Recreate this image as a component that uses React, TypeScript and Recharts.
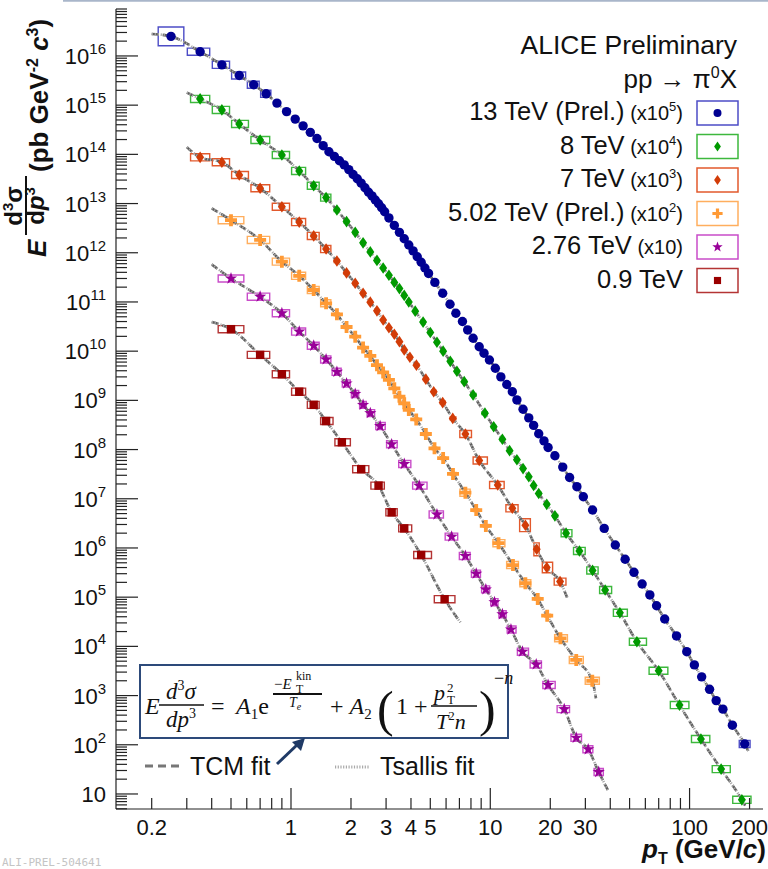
import React from 'react';
import { ComposedChart, Scatter, Line, XAxis, YAxis, ReferenceArea } from 'recharts';

// pT bin centres (GeV/c) and scaled invariant yields
const PT_13 = [0.25, 0.35, 0.45, 0.55, 0.65, 0.75, 0.85, 0.95, 1.05, 1.15, 1.25, 1.35, 1.45, 1.55, 1.65, 1.75, 1.85, 1.95, 2.05, 2.15, 2.25, 2.35, 2.45, 2.55, 2.65, 2.75, 2.85, 2.95, 3.1, 3.3, 3.5, 3.7, 3.9, 4.1, 4.3, 4.5, 4.7, 4.9, 5.27, 5.77, 6.28, 6.72, 7.25, 7.7, 8.2, 8.8, 9.3, 9.9, 10.6, 11.3, 12.1, 12.9, 13.6, 14.6, 15.6, 16.5, 17.5, 18.6, 19.5, 21.1, 23.1, 25, 27.2, 29.3, 32.6, 37.3, 42.4, 47.5, 52.6, 57.8, 63.2, 68.3, 75, 86, 96.8, 105.7, 115, 126, 136, 147, 164, 189];
const Y_13 = [2.5e16, 1.22e16, 6.6e15, 4.0e15, 2.6e15, 1.7e15, 1.1e15, 7.4e14, 5.2e14, 3.8e14, 2.8e14, 2.1e14, 1.5e14, 1.13e14, 9.1e13, 7.4e13, 6.1e13, 4.9e13, 3.9e13, 3.2e13, 2.6e13, 2.1e13, 1.7e13, 1.43e13, 1.18e13, 9.9e12, 8.2e12, 6.8e12, 5.1e12, 3.6e12, 2.6e12, 1.93e12, 1.44e12, 1.09e12, 8.3e11, 6.4e11, 4.9e11, 3.8e11, 2.5e11, 1.5e11, 9.0e10, 5.9e10, 4.0e10, 2.7e10, 1.83e10, 1.23e10, 9.1e9, 6.6e9, 4.5e9, 3.0e9, 2.1e9, 1.5e9, 1.02e9, 6.6e8, 4.4e8, 3.1e8, 2.1e8, 1.5e8, 1.1e8, 7.5e7, 4.4e7, 2.7e7, 1.76e7, 1.1e7, 5.9e6, 2.5e6, 1.15e6, 5.9e5, 3.2e5, 1.85e5, 1.11e5, 6.7e4, 3.6e4, 1.63e4, 7.8e3, 4.2e3, 2.4e3, 1.34e3, 790, 530, 250, 104];

const PT_8 = [0.35, 0.45, 0.55, 0.7, 0.9, 1.1, 1.3, 1.5, 1.7, 1.9, 2.1, 2.3, 2.5, 2.7, 2.9, 3.1, 3.3, 3.5, 3.7, 3.9, 4.2, 4.6, 5.0, 5.4, 5.8, 6.3, 6.8, 7.4, 8.2, 9.4, 10.4, 11.5, 12.5, 13.6, 14.6, 15.6, 16.5, 17.5, 19.2, 21.1, 24, 28, 32.6, 37.7, 44.7, 54.4, 70, 89, 114, 144, 183];
const Y_8 = [1.34e15, 8.0e14, 4.15e14, 1.96e14, 9.7e13, 4.6e13, 2.3e13, 1.32e13, 7.4e12, 4.3e12, 2.6e12, 1.59e12, 1.04e12, 7.0e11, 4.9e11, 3.5e11, 2.5e11, 1.87e11, 1.36e11, 1.0e11, 6.5e10, 3.9e10, 2.4e10, 1.52e10, 1.0e10, 6.2e9, 3.9e9, 2.4e9, 1.29e9, 5.5e8, 2.9e8, 1.62e8, 9.5e7, 6.2e7, 4.1e7, 2.8e7, 1.86e7, 1.28e7, 7.7e6, 4.5e6, 2.0e6, 8.7e5, 3.5e5, 1.4e5, 4.8e4, 1.24e4, 3.2e3, 640, 131, 32, 7.6];

const PT_7 = [0.35, 0.45, 0.55, 0.7, 0.9, 1.1, 1.3, 1.5, 1.7, 1.9, 2.1, 2.3, 2.5, 2.7, 2.9, 3.1, 3.3, 3.5, 3.7, 3.95, 4.26, 4.75, 5.2, 5.77, 6.48, 7.5, 8.8, 10.9, 12.9, 15, 17.1, 19.2, 22.4];
const Y_7 = [8.7e13, 6.9e13, 3.8e13, 2.05e13, 8.6e12, 4.2e12, 2.2e12, 1.19e12, 6.8e11, 3.9e11, 2.4e11, 1.5e11, 9.9e10, 6.6e10, 4.3e10, 3.0e10, 2.2e10, 1.56e10, 1.06e10, 7.5e9, 5.2e9, 2.7e9, 1.5e9, 9.0e8, 4.3e8, 2.07e8, 6.0e7, 1.9e7, 6.4e6, 2.9e6, 9.4e5, 4.0e5, 2.07e5];

const PT_5 = [0.5, 0.7, 0.9, 1.1, 1.3, 1.5, 1.7, 1.9, 2.1, 2.3, 2.5, 2.7, 2.9, 3.1, 3.3, 3.5, 3.7, 3.9, 4.25, 4.75, 5.25, 5.8, 6.5, 7.5, 8.5, 9.5, 11, 13, 15, 17.3, 19.3, 22.5, 27, 32.5];
const Y_5 = [4.6e12, 1.82e12, 6.6e11, 3.4e11, 1.75e11, 9.4e10, 5.6e10, 3.1e10, 1.97e10, 1.18e10, 8.0e9, 5.2e9, 3.7e9, 2.6e9, 1.76e9, 1.19e9, 8.7e8, 6.4e8, 4.1e8, 2.07e8, 1.06e8, 6.7e7, 3.2e7, 1.33e7, 5.9e6, 2.8e6, 1.25e6, 4.5e5, 1.92e5, 9.2e4, 4.2e4, 1.46e4, 5.3e3, 2.0e3];

const PT_276 = [0.5, 0.7, 0.9, 1.1, 1.3, 1.5, 1.7, 1.9, 2.1, 2.3, 2.5, 2.8, 3.2, 3.7, 4.4, 5.4, 6.4, 7.5, 8.5, 9.5, 10.5, 11.5, 12.7, 14.5, 17, 19.5, 23.5, 27, 31, 35];
const Y_276 = [3.0e11, 1.28e11, 5.9e10, 2.5e10, 1.29e10, 6.8e9, 3.8e9, 2.2e9, 1.35e9, 8.1e8, 5.5e8, 3.0e8, 1.28e8, 5.1e7, 1.85e7, 4.8e6, 1.7e6, 6.9e5, 3.0e5, 1.44e5, 7.9e4, 4.5e4, 2.2e4, 7.8e3, 4.3e3, 1.64e3, 530, 139, 81, 28];

const PT_09 = [0.5, 0.7, 0.9, 1.1, 1.3, 1.5, 1.8, 2.25, 2.75, 3.2, 3.7, 4.5, 5.9];
const Y_09 = [2.8e10, 8.4e9, 3.4e9, 1.5e9, 8.1e8, 3.8e8, 1.41e8, 4.0e7, 1.85e7, 5.3e6, 2.5e6, 7.2e5, 9.1e4];

// where the fit curves start and stop (same order as the series)
const FIT_FROM_PT = [0.2, 0.3, 0.3, 0.4, 0.4, 0.4];
const FIT_FROM_Y = [2.8e16, 1.8e15, 1.4e14, 8.0e12, 5.8e11, 3.9e10];
const FIT_TO_PT = [197, 190, 24.4, 33.9, 38.9, 7.07];
const FIT_TO_Y = [75, 5.8, 9.5e4, 880, 12, 3.1e4];

const NAMES = ['13 TeV (Prel.)', '8 TeV', '7 TeV', '5.02 TeV (Prel.)', '2.76 TeV', '0.9 TeV'];
const SCALE_EXP: (string | null)[] = ['5', '4', '3', '2', '', null];

const X_TICKS = [0.2, 0.3, 0.4, 0.5, 0.6, 0.7, 0.8, 0.9, 1, 2, 3, 4, 5, 6, 7, 8, 9, 10, 20, 30, 40, 50, 60, 70, 80, 90, 100, 200];
const X_LABELS = [0.2, 1, 2, 3, 4, 5, 10, 20, 30, 100, 200];
const X_MAJOR = [1, 10, 100];

const X_DOMAIN: [number, number] = [0.1324, 233.6];
const Y_DOMAIN: [number, number] = [4.95, 9.0e16];

const Y_TICKS: number[] = [];
for (let e = 0; e <= 16; e++) {
  for (let k = 1; k <= 9; k++) {
    const v = k * Math.pow(10, e);
    if (v >= Y_DOMAIN[0] && v <= Y_DOMAIN[1]) Y_TICKS.push(v);
  }
}

// thinBoxes: where points sit close together the boxes shrink behind the markers
const SERIES = [
  { pt: PT_13, y: Y_13, marker: 'circle', color: '#000092', box: '#4c4cc6', thinBoxes: true },
  { pt: PT_8, y: Y_8, marker: 'diamond', color: '#009a00', box: '#3db83d', thinBoxes: true },
  { pt: PT_7, y: Y_7, marker: 'diamond', color: '#d23c08', box: '#e2592c', thinBoxes: true },
  { pt: PT_5, y: Y_5, marker: 'cross', color: '#ff9a35', box: '#ffae5e', thinBoxes: true },
  { pt: PT_276, y: Y_276, marker: 'star', color: '#990099', box: '#c94cc9', thinBoxes: false },
  { pt: PT_09, y: Y_09, marker: 'square', color: '#9a0000', box: '#b43434', thinBoxes: false },
];

// larger systematic boxes (series index, point index, relative size)
const BIG_SYS = [
  [0, 0, 0.55],
  [2, 29, 0.35],
  [2, 30, 0.35],
  [2, 31, 0.28],
];

const FONT = '"Liberation Sans", Arial, Helvetica, sans-serif';
const SERIF = '"Liberation Serif", "DejaVu Serif", serif';

const isDecade = (v: number) => Math.abs(Math.log10(v) - Math.round(Math.log10(v))) < 1e-9;

function Marker({ kind, cx, cy, color, s = 1 }: any) {
  if (cx == null || cy == null) return null;
  if (kind === 'circle') return <circle cx={cx} cy={cy} r={4.7 * s} fill={color} />;
  if (kind === 'diamond')
    return <polygon points={`${cx},${cy - 5.8 * s} ${cx + 4 * s},${cy} ${cx},${cy + 5.8 * s} ${cx - 4 * s},${cy}`} fill={color} />;
  if (kind === 'square') return <rect x={cx - 4.2 * s} y={cy - 4.2 * s} width={8.4 * s} height={8.4 * s} fill={color} />;
  if (kind === 'cross') {
    const a = 6 * s;
    const b = 1.9 * s;
    return (
      <path
        d={`M${cx - a},${cy - b}H${cx + a}V${cy + b}H${cx - a}Z M${cx - b},${cy - a}H${cx + b}V${cy + a}H${cx - b}Z`}
        fill={color}
      />
    );
  }
  // five-pointed star
  const pts: string[] = [];
  for (let k = 0; k < 10; k++) {
    const r = (k % 2 ? 2.6 : 6.4) * s;
    const ang = ((-90 + k * 36) * Math.PI) / 180;
    pts.push(`${cx + r * Math.cos(ang)},${cy + r * Math.sin(ang)}`);
  }
  return <polygon points={pts.join(' ')} fill={color} />;
}

function XTick({ x, y, payload }: any) {
  const v = payload.value;
  const len = X_MAJOR.includes(v) ? 21 : 11;
  return (
    <g>
      <line x1={x} y1={y} x2={x} y2={y - len} stroke="#222" strokeWidth={1.2} />
      {X_LABELS.includes(v) && (
        <text x={x} y={y + 26} textAnchor="middle" fontSize={22} fontFamily={FONT} fill="#111">
          {v}
        </text>
      )}
    </g>
  );
}

function TopTick({ x, y, payload }: any) {
  const len = X_MAJOR.includes(payload.value) ? 21 : 11;
  return <line x1={x} y1={y} x2={x} y2={y + len} stroke="#222" strokeWidth={1.2} />;
}

function YTick({ x, y, payload }: any) {
  const v = payload.value;
  const major = isDecade(v);
  const e = Math.round(Math.log10(v));
  return (
    <g>
      <line x1={x} y1={y} x2={x + (major ? 22 : 11)} y2={y} stroke="#222" strokeWidth={1.2} />
      {major && e >= 1 && (
        <text x={x - 10} y={y + 8} textAnchor="end" fontSize={22} fontFamily={FONT} fill="#111">
          10
          {e > 1 && (
            <tspan dy={-10} fontSize={15}>
              {e}
            </tspan>
          )}
        </text>
      )}
    </g>
  );
}

function RightTick({ x, y, payload }: any) {
  const len = isDecade(payload.value) ? 22 : 11;
  return <line x1={x} y1={y} x2={x - len} y2={y} stroke="#222" strokeWidth={1.2} />;
}

function boxesFor(s: number) {
  const { pt, y, thinBoxes } = SERIES[s];
  return pt.map((p, i) => {
    const hi = i < pt.length - 1 ? Math.sqrt(p * pt[i + 1]) : (p * p) / Math.sqrt(p * pt[i - 1]);
    const lo = i > 0 ? Math.sqrt(p * pt[i - 1]) : (p * p) / Math.sqrt(p * pt[i + 1]);
    const dense = thinBoxes && Math.log10(hi / lo) < 0.058;
    const big = BIG_SYS.find((b) => b[0] === s && b[1] === i);
    const f = big ? big[2] : dense ? 0.07 : 0.18;
    const w = dense ? 0.5 : 0.88;
    return {
      x1: p * Math.pow(lo / p, w),
      x2: p * Math.pow(hi / p, w),
      y1: y[i] / (1 + f),
      y2: y[i] * (1 + f),
    };
  });
}

export default function App() {
  const points = SERIES.map((s) => s.pt.map((x, i) => ({ x, y: s.y[i] })));
  const fits = points.map((p, s) => [
    { x: FIT_FROM_PT[s], y: FIT_FROM_Y[s] },
    ...p,
    { x: FIT_TO_PT[s], y: FIT_TO_Y[s] },
  ]);

  return (
    <div style={{ position: 'absolute', left: 0, top: 0, width: 768, height: 869, background: '#fff', fontFamily: FONT }}>
      <ComposedChart width={768} height={869} margin={{ top: 9, right: 5, bottom: 0, left: 0 }}>
        <XAxis
          dataKey="x"
          type="number"
          scale="log"
          domain={X_DOMAIN}
          allowDataOverflow
          ticks={X_TICKS}
          interval={0}
          height={60}
          tickSize={0}
          tickMargin={0}
          tickLine={false}
          axisLine={{ stroke: '#222', strokeWidth: 1.2 }}
          tick={(p: any) => <XTick {...p} />}
        />
        <XAxis
          xAxisId="top"
          orientation="top"
          dataKey="x"
          type="number"
          scale="log"
          domain={X_DOMAIN}
          allowDataOverflow
          ticks={X_TICKS}
          interval={0}
          height={0}
          tickSize={0}
          tickMargin={0}
          tickLine={false}
          axisLine={{ stroke: '#222', strokeWidth: 1.2 }}
          tick={(p: any) => <TopTick {...p} />}
        />
        <YAxis
          dataKey="y"
          type="number"
          scale="log"
          domain={Y_DOMAIN}
          allowDataOverflow
          ticks={Y_TICKS}
          interval={0}
          width={116}
          tickSize={0}
          tickMargin={0}
          tickLine={false}
          axisLine={{ stroke: '#222', strokeWidth: 1.2 }}
          tick={(p: any) => <YTick {...p} />}
        />
        <YAxis
          yAxisId="right"
          orientation="right"
          dataKey="y"
          type="number"
          scale="log"
          domain={Y_DOMAIN}
          allowDataOverflow
          ticks={Y_TICKS}
          interval={0}
          width={0}
          tickSize={0}
          tickMargin={0}
          tickLine={false}
          axisLine={{ stroke: '#222', strokeWidth: 1.2 }}
          tick={(p: any) => <RightTick {...p} />}
        />

        {SERIES.map((s, si) =>
          boxesFor(si).map((b, i) => (
            <ReferenceArea
              key={`b${si}-${i}`}
              x1={b.x1}
              x2={b.x2}
              y1={b.y1}
              y2={b.y2}
              fill="none"
              fillOpacity={0}
              stroke={s.box}
              strokeWidth={1.4}
              strokeOpacity={1}
            />
          ))
        )}

        {fits.map((d, si) => (
          <Line
            key={`tcm${si}`}
            data={d}
            dataKey="y"
            type="monotone"
            stroke="#5f5f5f"
            strokeWidth={2.6}
            strokeDasharray="7 4"
            dot={false}
            isAnimationActive={false}
          />
        ))}
        {fits.map((d, si) => (
          <Line
            key={`ts${si}`}
            data={d}
            dataKey="y"
            type="monotone"
            stroke="#a9a9a9"
            strokeWidth={2.6}
            strokeDasharray="1.2 1.8"
            dot={false}
            isAnimationActive={false}
          />
        ))}

        {SERIES.map((s, si) => (
          <Scatter
            key={`s${si}`}
            data={points[si]}
            isAnimationActive={false}
            shape={(p: any) => <Marker kind={s.marker} cx={p.cx} cy={p.cy} color={s.color} />}
          />
        ))}
      </ComposedChart>

      <svg width={768} height={869} style={{ position: 'absolute', left: 0, top: 0, pointerEvents: 'none' }}>
        <line x1={63} y1={0.8} x2={768} y2={0.8} stroke="#a9b6ca" strokeWidth={2} />

        {/* y-axis title */}
        <text transform="translate(46,257) rotate(-90)" fontSize={26} fontWeight="bold" fontStyle="italic" fill="#111">
          E
        </text>
        <text transform="translate(22,206) rotate(-90)" textAnchor="middle" fontSize={24} fontWeight="bold" fill="#111">
          d<tspan dy={-9} fontSize={15}>3</tspan>
          <tspan dy={9}>σ</tspan>
        </text>
        <line x1={26} y1={176} x2={26} y2={235} stroke="#111" strokeWidth={2} />
        <text transform="translate(44,206) rotate(-90)" textAnchor="middle" fontSize={24} fontWeight="bold" fill="#111">
          d<tspan fontStyle="italic">p</tspan>
          <tspan dy={-9} fontSize={15}>3</tspan>
        </text>
        <text transform="translate(48,172) rotate(-90)" fontSize={26} fontWeight="bold" fill="#111">
          (pb GeV<tspan dy={-10} fontSize={16}>-2</tspan>
          <tspan dy={10}>{'  '}</tspan>
          <tspan fontStyle="italic">c</tspan>
          <tspan dy={-10} fontSize={16}>3</tspan>
          <tspan dy={10}>)</tspan>
        </text>

        {/* x-axis title */}
        <text x={766} y={858} textAnchor="end" fontSize={26} fontWeight="bold" fill="#111">
          <tspan fontStyle="italic">p</tspan>
          <tspan dy={6} fontSize={16}>T</tspan>
          <tspan dy={-6}> (GeV/</tspan>
          <tspan fontStyle="italic">c</tspan>)
        </text>

        {/* legend */}
        <text x={737} y={54} textAnchor="end" fontSize={26.5} fill="#111">
          ALICE Preliminary
        </text>
        <text x={737} y={88} textAnchor="end" fontSize={26} fill="#111">
          pp → π<tspan dy={-10} fontSize={16}>0</tspan>
          <tspan dy={10}>X</tspan>
        </text>
        {SERIES.map((s, i) => {
          const top = 101 + i * 33.5;
          const exp = SCALE_EXP[i];
          return (
            <g key={`lg${i}`}>
              <text x={683} y={top + 19} textAnchor="end" fontSize={25.5} fill="#111">
                {NAMES[i]}
                {exp !== null && <tspan fontSize={20}> (x10</tspan>}
                {exp ? (
                  <tspan dy={-9} fontSize={13}>
                    {exp}
                  </tspan>
                ) : null}
                {exp !== null && (
                  <tspan dy={exp ? 9 : 0} fontSize={20}>
                    )
                  </tspan>
                )}
              </text>
              <rect x={697} y={top} width={41} height={24} fill="none" stroke={s.box} strokeWidth={1.5} />
              <Marker kind={s.marker} cx={717.5} cy={top + 12} color={s.color} s={0.85} />
            </g>
          );
        })}

        {/* formula box */}
        <rect x={140} y={665} width={368} height={73} fill="#fff" stroke="#2d4a7a" strokeWidth={2} />
        <g fontFamily={SERIF} fill="#111">
          <text x={145} y={714} fontSize={24} fontStyle="italic">E</text>
          <text x={181} y={699} fontSize={23} textAnchor="middle" fontStyle="italic">
            d<tspan dy={-9} fontSize={14} fontStyle="normal">3</tspan>
            <tspan dy={9}>σ</tspan>
          </text>
          <line x1={159} y1={705} x2={204} y2={705} stroke="#111" strokeWidth={1.6} />
          <text x={181} y={727} fontSize={23} textAnchor="middle" fontStyle="italic">
            dp<tspan dy={-9} fontSize={14} fontStyle="normal">3</tspan>
          </text>
          <text x={211} y={714} fontSize={24}>=</text>
          <text x={236} y={714} fontSize={24}>
            <tspan fontStyle="italic">A</tspan>
            <tspan dy={5} fontSize={15}>1</tspan>
            <tspan dy={-5}>e</tspan>
          </text>
          <text x={274} y={689} fontSize={15}>
            −<tspan fontStyle="italic">E</tspan>
          </text>
          <text x={296} y={680} fontSize={12}>kin</text>
          <text x={296} y={693} fontSize={12}>T</text>
          <line x1={273} y1={694} x2={322} y2={694} stroke="#111" strokeWidth={2} />
          <text x={289} y={707} fontSize={14} fontStyle="italic">
            T<tspan dy={3} fontSize={10}>e</tspan>
          </text>
          <text x={330} y={714} fontSize={24}>
            + <tspan fontStyle="italic">A</tspan>
            <tspan dy={5} fontSize={15}>2</tspan>
          </text>
          <text x={377} y={726} fontSize={50} fontWeight="100">(</text>
          <text x={396} y={714} fontSize={24}>1 +</text>
          <text x={434} y={700} fontSize={22} fontStyle="italic">p</text>
          <text x={447} y={692} fontSize={13}>2</text>
          <text x={447} y={704} fontSize={13}>T</text>
          <line x1={431} y1={706} x2={477} y2={706} stroke="#111" strokeWidth={1.6} />
          <text x={436} y={729} fontSize={22} fontStyle="italic">
            T<tspan dy={-9} fontSize={13} fontStyle="normal">2</tspan>
            <tspan dy={9}>n</tspan>
          </text>
          <text x={479} y={726} fontSize={50}>)</text>
          <text x={494} y={684} fontSize={18}>
            −<tspan fontStyle="italic">n</tspan>
          </text>
        </g>

        {/* arrow */}
        <line x1={277} y1={764} x2={298} y2={744} stroke="#1f3a66" strokeWidth={3} />
        <polygon points="305,738 292,742 301,751" fill="#1f3a66" />

        {/* fit legend */}
        <line x1={145} y1={766} x2={182} y2={766} stroke="#777" strokeWidth={3} strokeDasharray="8 5" />
        <text x={190} y={775} fontSize={25} fill="#111">TCM fit</text>
        <line x1={335} y1={767} x2={370} y2={767} stroke="#aaa" strokeWidth={3} strokeDasharray="1.2 1.5" />
        <text x={380} y={775} fontSize={25} fill="#111">Tsallis fit</text>

        <text x={2} y={866} fontSize={11} fill="#c4c4c4" fontFamily='"DejaVu Sans Mono", monospace'>
          ALI-PREL-504641
        </text>
      </svg>
    </div>
  );
}
